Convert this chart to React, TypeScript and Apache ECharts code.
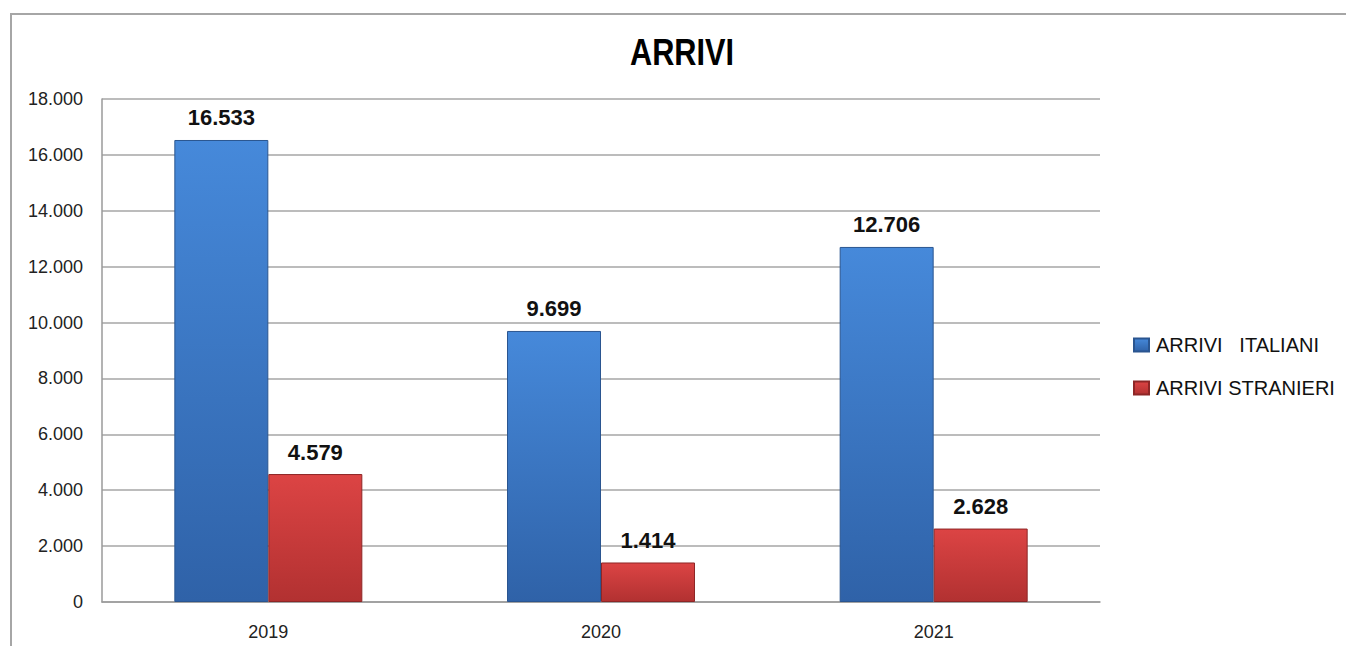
import React, { useEffect, useRef } from "react";
import * as echarts from "echarts";

const categories = ["2019", "2020", "2021"];
const italiani = [16533, 9699, 12706];
const stranieri = [4579, 1414, 2628];
const seriesNames = ["ARRIVI   ITALIANI", "ARRIVI STRANIERI"];
const titleText = "ARRIVI";

const fmt = (v: number) => {
  const s = Math.round(v).toString();
  return s.replace(/\B(?=(\d{3})+(?!\d))/g, ".");
};

const blueGrad = new echarts.graphic.LinearGradient(0, 0, 0, 1, [
  { offset: 0, color: "#4689da" },
  { offset: 1, color: "#2f62a8" },
]);
const redGrad = new echarts.graphic.LinearGradient(0, 0, 0, 1, [
  { offset: 0, color: "#dc4444" },
  { offset: 1, color: "#b23131" },
]);

export default function App() {
  const ref = useRef<HTMLDivElement>(null);
  useEffect(() => {
    if (!ref.current) return;
    const chart = echarts.init(ref.current, null, { renderer: "svg" });
    const labelStyle = {
      show: true,
      position: "top" as const,
      distance: 11,
      fontFamily: "Liberation Sans",
      fontWeight: "bold" as const,
      fontSize: 22,
      color: "#111",
      formatter: (p: any) => fmt(p.value),
    };
    chart.setOption({
      animation: false,
      backgroundColor: "#fff",
      graphic: [
        {
          type: "rect",
          shape: { x: 11, y: 14, width: 1400, height: 700 },
          style: { fill: "none", stroke: "#a6a6a6", lineWidth: 2 },
          silent: true,
          z: -1,
        },
        {
          type: "text",
          x: 682,
          y: 52,
          scaleX: 0.83,
          style: {
            text: titleText,
            fontFamily: "Liberation Sans",
            fontWeight: "bold",
            fontSize: 37,
            fill: "#000",
            textAlign: "center",
            textVerticalAlign: "middle",
          },
        },
      ],
      legend: {
        orient: "vertical",
        left: 1128,
        top: 330,
        padding: 5,
        itemWidth: 15,
        itemHeight: 13,
        itemGap: 23,
        icon: "rect",
        textStyle: {
          fontFamily: "Liberation Sans",
          fontSize: 20,
          color: "#111",
          padding: [0, 0, 0, 2],
        },
        data: seriesNames,
      },
      grid: { left: 102, top: 99, right: 246, bottom: 44 },
      xAxis: {
        type: "category",
        data: categories,
        axisLine: { lineStyle: { color: "#9a9a9a", width: 1.5 } },
        axisTick: { show: false },
        axisLabel: {
          fontFamily: "Liberation Sans",
          fontSize: 18,
          color: "#222",
          margin: 21,
        },
      },
      yAxis: {
        type: "value",
        min: 0,
        max: 18000,
        interval: 2000,
        axisLine: { show: true, lineStyle: { color: "#9a9a9a", width: 1.5 } },
        axisTick: { show: false },
        splitLine: { lineStyle: { color: "#a6a6a6", width: 1.5 } },
        axisLabel: {
          fontFamily: "Liberation Sans",
          fontSize: 18,
          color: "#222",
          margin: 19,
          formatter: (v: number) => fmt(v),
        },
      },
      series: [
        {
          name: seriesNames[0],
          type: "bar",
          data: italiani,
          barWidth: 94,
          barGap: "0%",
          itemStyle: { color: blueGrad, borderColor: "#2a5590", borderWidth: 1 },
          label: labelStyle,
        },
        {
          name: seriesNames[1],
          type: "bar",
          data: stranieri,
          barWidth: 94,
          barGap: "0%",
          itemStyle: { color: redGrad, borderColor: "#8e2626", borderWidth: 1 },
          label: labelStyle,
        },
      ],
    });
    return () => chart.dispose();
  }, []);
  return (
    <div
      ref={ref}
      style={{ position: "absolute", left: 0, top: 0, width: 1346, height: 646 }}
    />
  );
}
